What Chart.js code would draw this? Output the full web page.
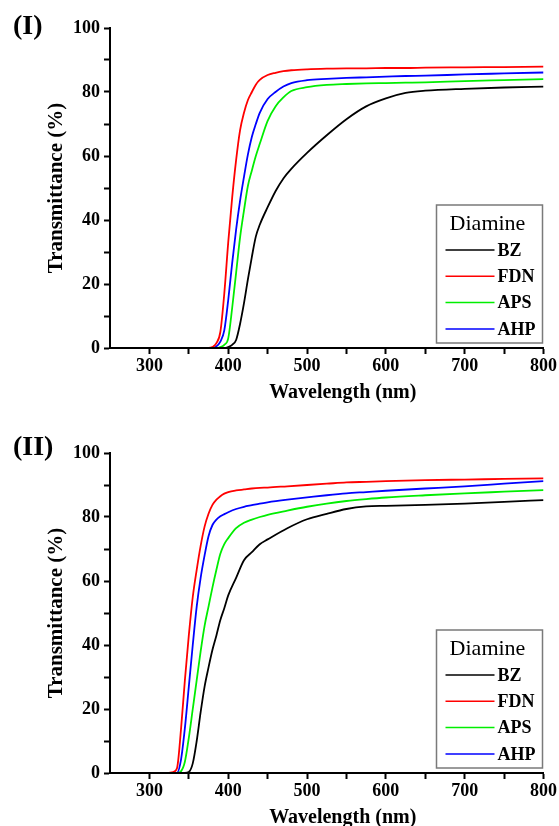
<!DOCTYPE html>
<html>
<head>
<meta charset="utf-8">
<script src="https://cdn.jsdelivr.net/npm/chart.js@4.4.1/dist/chart.umd.min.js"></script>
<style>
  html, body { margin: 0; padding: 0; background: #fff; }
  .panel { position: relative; width: 559px; height: 413px; }
</style>
</head>
<body>
<div class="panel"><canvas id="c1"></canvas></div>
<div class="panel"><canvas id="c2"></canvas></div>
<script>
/* UV-vis transmittance of the polyimide films, two series (I) and (II). */

const LABELS = ["BZ", "FDN", "APS", "AHP"];
const COLORS = ["#000000", "#ff0000", "#00ee00", "#0000ff"];

// panel (I)
const wl1 = [250, 360, 375, 380, 385, 390, 395, 400, 405, 410, 415, 420, 425, 430, 435,
  440, 450, 460, 470, 480, 500, 525, 550, 575, 600, 625, 650, 700, 750, 800];
const bz1 = [0, 0, 0, 0, 0, 0, 0, 0.3, 1, 2.5, 7.5, 14, 21.5, 28.5, 34.8,
  38.5, 44, 49, 53, 56, 61, 66.5, 71.5, 75.5, 78, 79.7, 80.4, 81, 81.4, 81.7];
const fdn1 = [0, 0, 0, 0.3, 1.5, 5, 17, 33, 47, 58.7, 68, 73.5, 77.5, 80, 82.3,
  83.8, 85.3, 86, 86.5, 86.8, 87.1, 87.3, 87.4, 87.4, 87.5, 87.5, 87.6, 87.7, 87.8, 87.9];
const aps1 = [0, 0, 0, 0, 0, 0.3, 1, 3, 12.5, 23.5, 34.5, 43, 50.7, 55.5, 60,
  63.8, 71, 75.5, 78.3, 80.3, 81.5, 82.2, 82.5, 82.7, 82.8, 82.9, 83, 83.4, 83.7, 84];
const ahp1 = [0, 0, 0, 0, 0.5, 2, 5.5, 15, 26.5, 37, 46, 53.5, 60.5, 66, 70,
  73.5, 77.8, 80, 81.7, 82.8, 83.7, 84.1, 84.4, 84.6, 84.8, 85, 85.1, 85.5, 85.8, 86.1];

// panel (II)
const wl2 = [250, 320, 330, 335, 340, 345, 350, 355, 360, 365, 370, 375, 380, 385, 390, 395,
  400, 410, 420, 430, 440, 450, 475, 500, 525, 550, 575, 600, 650, 700, 750, 800];
const bz2 = [0, 0, 0, 0, 0, 0, 0.3, 3, 10, 19, 27, 33, 38.5, 43, 47.8, 51.5,
  55.5, 61, 66.5, 69, 71.5, 73, 76.5, 79.3, 81, 82.5, 83.3, 83.5, 83.8, 84.2, 84.7, 85.3];
const fdn2 = [0, 0, 0.3, 1.5, 13.4, 29, 43, 55, 63.5, 71, 77, 81, 83.8, 85.4, 86.5, 87.3,
  87.8, 88.3, 88.6, 88.9, 89.1, 89.2, 89.6, 90, 90.4, 90.8, 91, 91.2, 91.5, 91.7, 91.9, 92.1];
const aps2 = [0, 0, 0, 0, 0.5, 3.5, 11, 20, 29, 38, 46, 52, 58, 63.5, 68.5, 71.5,
  73.4, 76.5, 78.2, 79.2, 80, 80.7, 82, 83.2, 84.2, 85, 85.6, 86.1, 86.8, 87.4, 87.9, 88.4];
const ahp2 = [0, 0, 0, 0, 4, 14, 27, 40, 52, 61, 68, 74, 77.5, 79.2, 80.2, 80.9,
  81.5, 82.5, 83.2, 83.7, 84.2, 84.6, 85.4, 86.1, 86.8, 87.4, 87.8, 88.2, 88.9, 89.6, 90.4, 91.2];

const FONT = '"Liberation Serif", "DejaVu Serif", serif';
Chart.defaults.font.family = FONT;
Chart.defaults.color = "#000";

// boxed legend in the lower right corner of the plot
const diamineLegend = {
  id: "diamineLegend",
  afterDraw(chart) {
    const { ctx, chartArea } = chart;
    const w = 106, h = 138;
    const x0 = chartArea.right - w - 1, y0 = chartArea.bottom - h - 5;
    ctx.save();
    ctx.fillStyle = "#fff";
    ctx.fillRect(x0, y0, w, h);
    ctx.strokeStyle = "#7a7a7a";
    ctx.lineWidth = 1.5;
    ctx.strokeRect(x0, y0, w, h);
    ctx.fillStyle = "#000";
    ctx.textBaseline = "middle";
    ctx.textAlign = "center";
    ctx.font = `22px ${FONT}`;
    ctx.fillText("Diamine", x0 + w / 2 - 2, y0 + 19);
    ctx.textAlign = "left";
    ctx.font = `bold 18px ${FONT}`;
    chart.data.datasets.forEach((ds, i) => {
      const y = y0 + 45 + i * 26.3;
      ctx.strokeStyle = ds.borderColor;
      ctx.lineWidth = 1.5;
      ctx.beginPath();
      ctx.moveTo(x0 + 9, y);
      ctx.lineTo(x0 + 58, y);
      ctx.stroke();
      ctx.fillText(ds.label, x0 + 61, y + 1);
    });
    ctx.restore();
  },
};

// "(I)" / "(II)" tag and the wavelength caption (sits a bit right of centre, as in the figure)
const panelText = {
  id: "panelText",
  afterDraw(chart, args, opts) {
    const { ctx, chartArea } = chart;
    ctx.save();
    ctx.fillStyle = "#000";
    ctx.textBaseline = "middle";
    ctx.textAlign = "left";
    ctx.font = `bold 28px ${FONT}`;
    ctx.fillText(opts.tag, 13, opts.tagY);
    ctx.textAlign = "center";
    ctx.font = `bold 20px ${FONT}`;
    ctx.fillText("Wavelength (nm)", (chartArea.left + chartArea.right) / 2 + 16, chartArea.bottom + 45);
    ctx.restore();
  },
};

const makeChart = (id, tag, tagY, wl, series, padTop, xAxisH) => {
  const datasets = series.map((vals, i) => ({
    label: LABELS[i],
    data: wl.map((x, k) => ({ x, y: vals[k] })),
    borderColor: COLORS[i],
    borderWidth: 1.8,
    pointRadius: 0,
    cubicInterpolationMode: "monotone",
  }));
  return new Chart(document.getElementById(id), {
    type: "line",
    data: { datasets },
    plugins: [diamineLegend, panelText],
    options: {
      responsive: true, maintainAspectRatio: false, animation: false,
      layout: { padding: { top: padTop, right: 15, left: 0, bottom: 0 } },
      plugins: {
        legend: { display: false },
        tooltip: { enabled: false },
        panelText: { tag, tagY },
      },
      scales: {
        x: {
          type: "linear", min: 250, max: 800,
          afterFit: (s) => { s.height = xAxisH; },
          ticks: {
            stepSize: 50, autoSkip: false, maxRotation: 0, padding: 2,
            callback: (v) => (v % 100 === 0 && v >= 300 ? v : ""),
            font: { size: 18, weight: "bold" },
          },
          grid: {
            drawOnChartArea: false, tickLength: 6, tickWidth: 2,
            tickColor: (c) => (c.tick && c.tick.value === 250 ? "rgba(0,0,0,0)" : "#000"),
          },
          border: { display: true, color: "#000", width: 2 },
        },
        y: {
          min: 0, max: 100,
          afterFit: (s) => { s.width = 110; },
          ticks: {
            stepSize: 10, autoSkip: false, padding: 4,
            callback: (v) => (v % 20 === 0 ? v : ""),
            font: { size: 18, weight: "bold" },
          },
          grid: { drawOnChartArea: false, tickLength: 6, tickWidth: 2, tickColor: "#000" },
          border: { display: true, color: "#000", width: 2 },
          title: {
            display: true, text: "Transmittance (%)",
            font: { size: 21, weight: "bold" },
            padding: { top: 44, bottom: 0 },
          },
        },
      },
    },
  });
};

makeChart("c1", "(I)", 27, wl1, [bz1, fdn1, aps1, ahp1], 28, 65);
makeChart("c2", "(II)", 35, wl2, [bz2, fdn2, aps2, ahp2], 40, 53);
</script>
</body>
</html>
